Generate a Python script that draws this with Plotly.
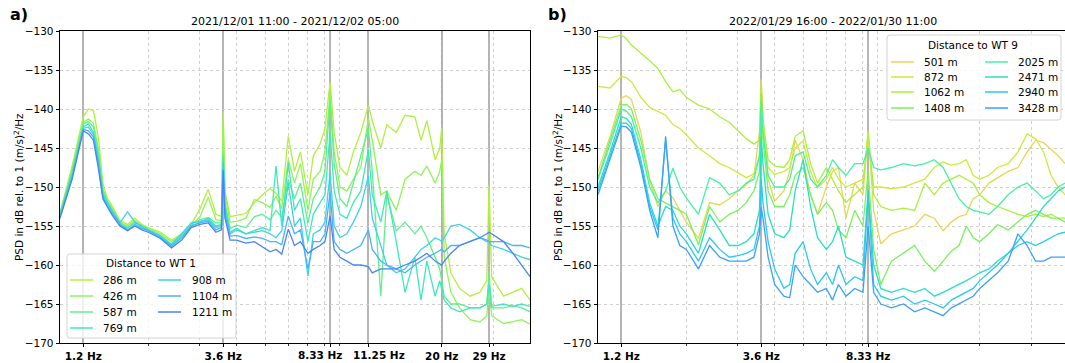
import math
import plotly.graph_objects as go

# ---------------- data: left panel (2021/12/01) ----------------
FREQ_L = [1.0, 1.1, 1.2, 1.25, 1.3, 1.35, 1.4, 1.45, 1.5, 1.6, 1.7, 1.8, 1.9, 2.0, 2.2, 2.4, 2.6, 2.8,
          3.0, 3.2, 3.4, 3.55, 3.6, 3.65, 3.8, 4.0, 4.3, 4.6, 4.9, 5.2, 5.45, 5.7, 6.0, 6.3, 6.6, 7.0,
          7.3, 7.7, 8.0, 8.33, 8.6, 9.0, 9.5, 10.0, 10.6, 11.25, 11.6, 12.4, 13.0, 14.0, 15.0, 16.2,
          17.0, 17.8, 19.0, 19.7, 20.0, 20.4, 21.5, 23.0, 25.0, 27.0, 28.5, 29.0, 29.6, 32.5, 35.0,
          37.5, 40.0]

DIST_L = ["286 m", "426 m", "587 m", "769 m", "908 m", "1104 m", "1211 m"]

PSD_L_286 = [-153.3, -147.3, -141.0, -140.0, -140.2, -143.5, -149.5, -151.5, -152.3,
             -154.3, -154.8, -154.0, -154.8, -155.2, -155.8, -156.8, -156.0, -154.8, -152.8, -150.3, -153.5, -153.8,
             -140.3, -150.5, -153.8, -153.6, -153.4, -152.0, -151.0, -150.2, -150.8, -151.8,
             -143.5, -148.0, -145.5, -151.0, -146.0, -144.5, -142.5, -136.5, -143.0, -147.5, -148.5, -145.5, -143.0, -139.5, -141.5,
             -145.0, -142.0, -143.0, -140.8, -141.0, -144.0, -141.5, -146.5, -145.0, -142.4, -156.0,
             -161.0, -163.0, -164.0, -163.5, -162.0, -149.7, -161.5, -164.0, -163.5, -163.0, -164.5]
PSD_L_426 = [-153.4, -147.7, -141.7, -141.3, -141.8, -145.0, -150.2, -151.8, -152.6,
             -154.5, -155.0, -154.3, -155.0, -155.3, -156.0, -157.0, -156.2, -155.0, -153.8, -151.3, -154.2, -154.3,
             -141.5, -151.0, -154.5, -154.4, -154.0, -151.6, -152.0, -152.6, -151.2, -152.8,
             -146.5, -149.5, -147.0, -153.0, -149.0, -148.0, -145.5, -138.0, -145.5, -150.0, -150.5, -149.0, -147.5, -141.2, -144.0,
             -151.0, -150.5, -153.0, -149.0, -148.0, -148.5, -147.3, -149.5, -148.0, -146.5, -159.0,
             -163.5, -165.5, -167.0, -167.3, -166.5, -163.0, -166.5, -167.5, -167.2, -167.0, -167.6]
PSD_L_587 = [-153.5, -148.0, -141.9, -141.6, -142.3, -145.5, -150.5, -151.8, -152.8,
             -154.6, -155.2, -154.6, -155.0, -155.5, -156.2, -157.3, -156.0, -154.8, -154.2, -153.9, -154.6, -154.6,
             -145.7, -152.0, -155.3, -154.9, -155.2, -153.8, -153.5, -154.2, -153.0, -153.9,
             -149.0, -151.5, -149.5, -154.6, -151.5, -150.0, -148.0, -138.8, -147.0, -151.5, -152.5, -149.5, -146.0, -142.5, -148.0,
             -164.0, -151.0, -155.6, -154.5, -156.0, -155.0, -156.5, -159.0, -160.5, -162.0, -164.0,
             -165.0, -165.0, -165.5, -165.5, -165.0, -161.0, -165.5, -165.5, -165.2, -165.5, -166.0]
PSD_L_769 = [-153.6, -148.3, -142.3, -141.9, -143.0, -146.0, -150.8, -152.0, -153.0,
             -154.8, -155.3, -154.5, -155.2, -155.6, -156.4, -157.5, -156.3, -155.0, -154.5, -154.0, -155.0, -154.8,
             -146.2, -152.5, -155.8, -155.3, -156.0, -155.6, -155.2, -155.6, -147.3, -155.0,
             -146.9, -153.0, -151.5, -157.0, -153.5, -152.0, -151.0, -143.0, -150.5, -153.5, -154.0, -152.0, -150.5, -145.2, -151.0,
             -154.5, -150.5, -157.0, -163.5, -159.0, -164.5, -159.5, -164.0, -162.0, -163.0, -164.5,
             -165.5, -166.0, -165.5, -165.5, -165.0, -162.5, -165.3, -165.0, -165.3, -165.0, -165.3]
PSD_L_908 = [-153.7, -148.5, -142.5, -142.3, -143.3, -146.5, -151.0, -152.2, -153.0,
             -154.6, -153.2, -154.5, -155.0, -155.5, -156.3, -157.4, -156.0, -154.6, -154.4, -154.2, -155.2, -155.0,
             -146.8, -153.0, -156.0, -155.5, -156.0, -155.8, -155.6, -156.0, -156.5, -155.6,
             -149.5, -155.0, -154.0, -161.4, -156.0, -155.5, -154.5, -148.2, -155.0, -156.5, -156.0, -154.5, -152.5, -148.6, -154.0,
             -157.5, -160.0, -161.0, -160.5, -159.0, -158.0, -157.5, -156.5, -156.8, -157.0, -156.5,
             -155.0, -154.8, -155.5, -156.5, -157.0, -157.0, -157.5, -158.0, -158.5, -159.0, -159.3]
PSD_L_1104 = [-153.8, -148.8, -142.6, -142.8, -143.6, -147.0, -151.3, -152.5, -153.3,
              -154.8, -155.5, -154.8, -155.3, -155.6, -156.5, -157.6, -156.5, -155.0, -154.6, -154.4, -155.5, -155.2,
              -147.7, -153.5, -156.3, -156.2, -156.6, -156.4, -156.6, -157.0, -157.0, -157.4,
              -153.7, -156.0, -155.5, -160.5, -157.0, -157.0, -156.0, -150.7, -157.0, -158.0, -158.5, -158.0, -157.5, -155.5, -158.0,
              -159.5, -160.0, -160.5, -161.0, -160.0, -159.5, -159.0, -158.5, -158.2, -158.0, -158.3,
              -157.5, -157.5, -157.0, -156.5, -156.8, -157.0, -157.0, -157.0, -157.5, -157.5, -157.8]
PSD_L_1211 = [-154.0, -149.0, -142.8, -143.2, -144.0, -147.5, -151.5, -152.6, -153.5,
              -155.0, -155.6, -155.0, -155.5, -155.8, -156.6, -157.8, -156.8, -155.2, -154.8, -154.6, -155.8, -155.5,
              -147.9, -154.0, -156.8, -156.8, -157.2, -157.0, -157.7, -158.3, -158.0, -158.6,
              -155.4, -157.5, -157.0, -158.5, -158.0, -157.5, -157.0, -153.7, -158.0, -159.0, -159.5, -160.0, -160.0, -160.2, -161.0,
              -160.5, -160.5, -160.5, -160.0, -159.5, -159.0, -158.5, -159.5, -159.8, -160.0, -159.5,
              -158.5, -157.5, -157.0, -156.5, -156.0, -155.8, -156.0, -157.0, -158.5, -160.0, -161.5]

# ---------------- data: right panel (2022/01/29) ----------------
FREQ_R = [1.0, 1.1, 1.2, 1.25, 1.3, 1.4, 1.5, 1.6, 1.7, 1.8, 1.9, 2.0, 2.2, 2.4, 2.6, 2.8, 3.0, 3.2,
          3.4, 3.55, 3.6, 3.65, 3.8, 4.0, 4.3, 4.5, 4.7, 5.0, 5.3, 5.6, 6.0, 6.3, 6.6, 7.0, 7.5, 8.0,
          8.33, 8.7, 9.2, 10.0, 11.0, 12.0, 13.0, 14.0, 15.0, 16.0, 17.0, 18.0, 19.0, 20.0, 21.5, 23.0,
          25.0, 27.0, 29.0, 31.0, 33.0, 35.0, 37.0, 39.05]

DIST_R = ["501 m", "872 m", "1062 m", "1408 m", "2025 m", "2471 m", "2940 m", "3428 m"]

PSD_R_501 = [-148.0, -143.5, -138.6, -138.3, -138.8, -143.0, -149.2, -152.5, -150.5, -151.4,
             -153.0, -154.5, -156.6, -152.0, -152.3, -151.5, -150.5, -149.7, -148.5, -143.0,
             -136.2, -141.0, -149.0, -151.8, -150.5, -148.0, -144.0, -146.5, -151.0, -153.5,
             -150.0, -148.0, -147.5, -154.0, -149.5, -151.0, -142.8, -153.0, -157.3, -156.0,
             -155.5, -155.0, -153.5, -154.0, -155.6, -154.5, -153.8, -153.5, -151.5, -151.0,
             -149.5, -148.8, -148.0, -147.5, -145.5, -144.0, -144.3, -145.2, -146.0, -147.0]
PSD_R_872 = [-137.1, -137.3, -135.8, -136.0, -136.5, -138.5, -139.8, -140.3, -140.8, -142.0,
             -142.5, -143.3, -145.0, -146.0, -147.0, -147.5, -148.2, -148.8, -148.3, -146.0,
             -137.7, -142.5, -147.5, -148.4, -148.0, -147.5, -145.0, -144.1, -148.0, -150.1,
             -149.0, -147.5, -149.0, -150.0, -149.5, -149.0, -144.0, -150.0, -150.0, -150.2,
             -150.0, -149.5, -149.0, -147.5, -146.8, -147.2, -147.0, -146.5, -148.5, -149.0,
             -148.5, -147.5, -147.0, -145.5, -143.2, -143.8, -145.5, -148.5, -150.0, -151.0]
PSD_R_1062 = [-130.7, -130.9, -130.5, -131.0, -131.8, -132.8, -133.8, -134.8, -136.5, -137.8,
              -137.5, -138.5, -139.5, -140.0, -141.0, -141.7, -142.8, -143.8, -144.5, -144.0,
              -137.0, -141.5, -146.5, -147.3, -147.5, -146.5, -143.5, -142.8, -147.0, -149.5,
              -147.5, -149.0, -150.5, -152.0, -151.0, -150.0, -143.0, -151.0, -152.5, -153.0,
              -152.7, -153.0, -149.5, -151.0, -149.5, -149.0, -148.5, -149.0, -149.5, -151.0,
              -152.0, -152.5, -153.0, -153.5, -153.8, -153.5, -153.8, -153.5, -154.0, -154.0]
PSD_R_1408 = [-148.8, -144.0, -139.5, -139.4, -140.0, -144.0, -149.0, -151.5, -152.0, -152.5,
              -153.0, -153.5, -157.4, -152.5, -154.5, -153.5, -153.0, -152.0, -150.5, -148.0,
              -138.0, -144.0, -150.5, -152.5, -152.5, -151.0, -148.5, -147.5, -151.0, -153.5,
              -152.0, -153.0, -155.5, -156.5, -153.0, -155.0, -148.0, -158.0, -162.5, -159.5,
              -158.5, -157.5, -159.5, -160.8, -159.5, -158.2, -157.5, -155.0, -156.5, -157.0,
              -156.0, -154.8, -155.5, -154.5, -153.5, -153.0, -153.5, -154.0, -154.0, -154.5]
PSD_R_2025 = [-149.0, -144.5, -140.0, -140.3, -141.0, -145.0, -150.0, -152.0, -150.5, -147.6,
              -150.0, -151.4, -153.5, -148.8, -149.5, -151.0, -150.5, -149.5, -149.0, -146.0,
              -139.0, -143.0, -148.5, -150.0, -150.0, -149.0, -146.0, -145.5, -149.0, -150.0,
              -148.5, -146.5, -147.5, -148.5, -147.0, -147.0, -145.0, -147.5, -147.8, -147.5,
              -147.0, -147.3, -147.0, -146.5, -147.5, -149.5, -151.5, -152.5, -153.0, -153.2,
              -153.5, -152.5, -151.0, -150.0, -149.5, -150.5, -151.5, -151.0, -150.0, -149.5]
PSD_R_2471 = [-150.0, -145.5, -141.0, -141.2, -142.0, -146.5, -152.0, -155.0, -152.5, -153.0,
              -155.0, -156.0, -158.5, -153.5, -155.5, -157.5, -157.5, -157.0, -156.0, -153.0,
              -143.5, -147.0, -153.5, -156.0, -156.5, -155.5, -150.5, -146.5, -152.5, -156.5,
              -158.0, -157.0, -155.0, -159.0, -159.5, -160.0, -150.5, -160.0, -163.0, -163.5,
              -163.0, -163.5, -163.0, -164.0, -163.5, -163.0, -162.5, -162.0, -161.5, -161.0,
              -160.5, -159.5, -158.5, -157.0, -155.5, -154.0, -152.5, -151.5, -150.5, -150.0]
PSD_R_2940 = [-150.5, -146.0, -141.8, -141.8, -142.5, -147.0, -152.5, -155.5, -144.0, -154.0,
              -156.0, -157.0, -159.5, -156.5, -158.0, -159.0, -158.8, -158.5, -158.0, -155.0,
              -149.0, -152.0, -157.0, -160.5, -163.0, -162.5, -158.5, -157.0, -160.5, -162.5,
              -161.0, -162.5, -160.0, -162.5, -161.5, -162.0, -151.0, -162.5, -164.0, -164.5,
              -164.0, -165.0, -164.5, -165.0, -165.5, -164.5, -164.0, -163.5, -163.0, -162.0,
              -161.0, -160.0, -158.5, -157.5, -157.0, -157.5, -157.0, -156.5, -156.0, -155.8]
PSD_R_3428 = [-151.0, -146.5, -142.2, -142.3, -143.0, -147.5, -153.0, -156.5, -143.5, -155.0,
              -157.5, -158.0, -160.5, -157.5, -159.0, -159.5, -159.5, -159.5, -159.0, -156.0,
              -152.6, -154.0, -159.0, -162.5, -164.0, -164.2, -160.0, -161.5, -162.5, -163.5,
              -163.0, -164.5, -162.5, -164.0, -163.0, -163.5, -155.0, -163.5, -165.0, -165.5,
              -165.0, -166.0, -165.5, -166.0, -166.5, -165.5, -165.0, -164.5, -164.0, -163.0,
              -162.0, -161.0, -159.5, -156.0, -157.5, -159.5, -159.5, -159.0, -159.0, -159.0]

SERIES_L = [PSD_L_286, PSD_L_426, PSD_L_587, PSD_L_769, PSD_L_908, PSD_L_1104, PSD_L_1211]
SERIES_R = [PSD_R_501, PSD_R_872, PSD_R_1062, PSD_R_1408, PSD_R_2025, PSD_R_2471, PSD_R_2940, PSD_R_3428]

TICKS_L = [1.2, 3.6, 8.33, 11.25, 20, 29]
TICKTEXT_L = ["1.2 Hz", "3.6 Hz", "8.33 Hz", "11.25 Hz", "20 Hz", "29 Hz"]
TICKS_R = [1.2, 3.6, 8.33]
TICKTEXT_R = ["1.2 Hz", "3.6 Hz", "8.33 Hz"]
MINOR_TICKS = [2, 3, 4, 5, 6, 7, 8, 9, 20, 30]
Y_TICKS = [-170, -165, -160, -155, -150, -145, -140, -135, -130]

TITLE_L = "2021/12/01 11:00 - 2021/12/02 05:00"
TITLE_R = "2022/01/29 16:00 - 2022/01/30 11:00"
LEGEND_TITLE_L = "Distance to WT 1"
LEGEND_TITLE_R = "Distance to WT 9"
Y_LABEL = "PSD in dB rel. to 1 (m/s)<sup>2</sup>/Hz"

# ---------------- styling ----------------
COLORS_L = ['#b2f03e', '#8ef45c', '#5ef08c', '#3ee8be', '#3cd2e8', '#4ab2f8', '#4a84f2']
COLORS_R = ['#e8d656', '#cdea3c', '#aaf03e', '#78f25e', '#46f0a2', '#26e0c4', '#2ac8f2', '#3ca0fa']

for s in SERIES_L:
    assert len(s) == len(FREQ_L), len(s)
for s in SERIES_R:
    assert len(s) == len(FREQ_R), len(s)

W, H = 1065, 363
FONT = "DejaVu Sans"


def px(x):
    return x / W


def py(y):
    return 1 - y / H


L_DOM = [px(60), px(530)]
R_DOM = [px(598), 1.0]
Y_DOM = [py(343), py(31)]

fig = go.Figure()

for i, (name, vals) in enumerate(zip(DIST_L, SERIES_L)):
    fig.add_trace(go.Scatter(x=FREQ_L, y=vals, mode="lines", name=name,
                             line=dict(color=COLORS_L[i], width=1.3),
                             xaxis="x", yaxis="y", showlegend=False))
for i, (name, vals) in enumerate(zip(DIST_R, SERIES_R)):
    fig.add_trace(go.Scatter(x=FREQ_R, y=vals, mode="lines", name=name,
                             line=dict(color=COLORS_R[i], width=1.3),
                             xaxis="x2", yaxis="y2", showlegend=False))

grid_minor = dict(tickmode="array", tickvals=MINOR_TICKS, showgrid=True, gridcolor="#cfcfcf",
                  griddash="dot", gridwidth=0.8, ticks="outside", ticklen=2, tickcolor="#333",
                  tickwidth=0.6)
tickfont = dict(family=FONT, size=10.5, color="black")

# the two crowded labels (8.33 / 11.25 Hz, left panel) are nudged apart as in the original
NUDGED = {8.33: -10.5, 11.25: 11.0}


def xaxis(dom, anchor, rng, tv, tt, nudged):
    text = ["" if (v in nudged) else "<b>%s</b>" % t for v, t in zip(tv, tt)]
    return dict(type="log", domain=dom, anchor=anchor, range=rng,
                tickmode="array", tickvals=tv, ticktext=text, tickangle=0,
                ticks="outside", ticklen=3.5, tickwidth=0.8, tickcolor="black",
                tickfont=tickfont, showline=True, linecolor="black", linewidth=0.8,
                mirror=True, showgrid=True, gridcolor="rgba(150,150,150,0.7)", gridwidth=1.7,
                zeroline=False, minor=grid_minor)


def yaxis(anchor, mirror):
    return dict(domain=Y_DOM, anchor=anchor, range=[-170, -130], tickmode="array",
                tickvals=Y_TICKS, ticks="outside", ticklen=3.5, tickwidth=0.8, tickcolor="black",
                tickfont=tickfont, showline=True, linecolor="black", linewidth=0.8,
                mirror=mirror, showgrid=True, gridcolor="#cfcfcf", griddash="dot",
                gridwidth=0.8, zeroline=False)


def rounded_rect(x0, y0, x1, y1, r=3):
    return (f"M {px(x0 + r)},{py(y0)} L {px(x1 - r)},{py(y0)} Q {px(x1)},{py(y0)} {px(x1)},{py(y0 + r)} "
            f"L {px(x1)},{py(y1 - r)} Q {px(x1)},{py(y1)} {px(x1 - r)},{py(y1)} "
            f"L {px(x0 + r)},{py(y1)} Q {px(x0)},{py(y1)} {px(x0)},{py(y1 - r)} "
            f"L {px(x0)},{py(y0 + r)} Q {px(x0)},{py(y0)} {px(x0 + r)},{py(y0)} Z")


def ann(text, x, y, size=10.5, bold=False, angle=0, xanchor="center", xref="paper"):
    return dict(text=("<b>%s</b>" % text) if bold else text,
                x=(px(x) if xref == "paper" else x), y=py(y), xref=xref,
                yref="paper", showarrow=False, textangle=angle, xanchor=xanchor, yanchor="middle",
                font=dict(family=FONT, size=size, color="black"))


shapes = [
    dict(type="path", xref="paper", yref="paper", path=rounded_rect(67, 254, 236, 338),
         fillcolor="rgba(255,255,255,0.8)", line=dict(color="#d4d4d4", width=1), layer="above"),
    dict(type="path", xref="paper", yref="paper", path=rounded_rect(887, 35, 1061, 120),
         fillcolor="rgba(255,255,255,0.8)", line=dict(color="#d4d4d4", width=1), layer="above"),
]

annotations = [
    ann("a)", 8, 15, size=16, bold=True, xanchor="left"),
    ann("b)", 546, 15, size=16, bold=True, xanchor="left"),
    ann(TITLE_L, 295, 22, size=11),
    ann(TITLE_R, 833, 22, size=11),
    ann(Y_LABEL, 18, 187, size=10.5, angle=-90),
    ann(Y_LABEL, 557, 187, size=10.5, angle=-90),
    ann(LEGEND_TITLE_L, 151, 263, size=10.5),
    ann(LEGEND_TITLE_R, 973, 45, size=10.5),
]

# nudged tick labels, anchored to the tick value on the x axis
for v, t in zip(TICKS_L, TICKTEXT_L):
    if v in NUDGED:
        a = ann(t, math.log10(v), 354.5, size=10.5, bold=True, xref="x")
        a["xshift"] = NUDGED[v]
        annotations.append(a)

# legend entries (two columns, filled column by column like the original)
ROWS_L = [280, 296, 312, 328]
ROWS_R = [62, 77, 92, 108]
COLS_L = [(70, 93, 101), (158, 181, 190)]
COLS_R = [(891, 914, 922), (985, 1008, 1016)]


def add_legend(names, colors, rows, cols):
    for i, (nm, c) in enumerate(zip(names, colors)):
        col = cols[0] if i < len(rows) else cols[1]
        r = rows[i % len(rows)]
        shapes.append(dict(type="line", xref="paper", yref="paper", x0=px(col[0]), x1=px(col[1]),
                           y0=py(r), y1=py(r), line=dict(color=c, width=1.5), layer="above"))
        annotations.append(ann(nm, col[2], r, size=10.5, xanchor="left"))


add_legend(DIST_L, COLORS_L, ROWS_L, COLS_L)
add_legend(DIST_R, COLORS_R, ROWS_R, COLS_R)

fig.update_layout(
    width=W, height=H,
    margin=dict(l=0, r=0, t=0, b=0, autoexpand=False),
    paper_bgcolor="white", plot_bgcolor="white",
    font=dict(family=FONT, size=10.5, color="black"),
    xaxis=xaxis(L_DOM, "y", [0, math.log10(40)], TICKS_L, TICKTEXT_L, NUDGED),
    yaxis=yaxis("x", True),
    xaxis2=xaxis(R_DOM, "y2", [0, math.log10(39.05)], TICKS_R, TICKTEXT_R, {}),
    yaxis2=yaxis("x2", False),
    showlegend=False,
    shapes=shapes,
    annotations=annotations,
)

fig.write_html("out.html")
